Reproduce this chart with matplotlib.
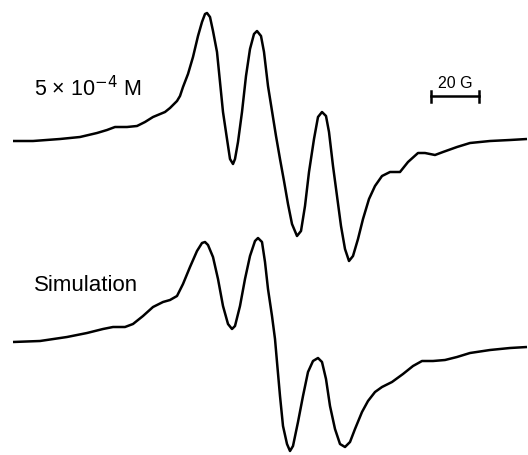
import matplotlib
matplotlib.use("Agg")
import matplotlib.pyplot as plt
import numpy as np

plt.rcParams['font.family'] = ['Liberation Sans', 'DejaVu Sans']

PX_PER_G = 2.4  # 20 G scale bar spans 48 px

# Experimental spectrum (5e-4 M): field readings (px units) and signal (px, downward positive)
exp_field_px = [13, 33, 60, 80, 97, 107, 115, 127, 137, 145, 153, 165, 170, 173, 177, 180,
                183, 188, 193, 198, 202, 205, 207, 210, 213, 217, 220, 223, 227, 230, 233,
                235, 238, 242, 246, 250, 254, 257, 261, 264, 268, 272, 276, 280, 284, 288, 292,
                297, 301, 305, 309, 314, 318, 322, 326, 329, 333, 337, 341, 345, 349, 353,
                358, 363, 369, 375, 382, 390, 400, 408, 418, 425, 435, 443, 457, 470, 490,
                510, 527]
exp_signal_px = [142, 142, 140, 138, 134, 131, 128, 128, 127, 123, 118, 113, 109, 106, 102, 97,
                 88, 75, 58, 37, 23, 15, 14, 18, 32, 53, 83, 113, 140, 160, 165,
                 160, 143, 113, 77, 50, 35, 32, 37, 53, 87, 112, 137, 160, 182, 205, 225,
                 237, 232, 207, 173, 140, 118, 113, 117, 133, 167, 197, 227, 250, 262, 257,
                 240, 220, 200, 187, 177, 173, 173, 163, 154, 154, 156, 153, 148, 144, 142,
                 141, 140]

# Simulated spectrum
sim_field_px = [13, 40, 67, 87, 103, 113, 125, 133, 143, 153, 163, 170, 177, 183, 190, 197,
                202, 205, 208, 213, 218, 223, 228, 232, 235, 240, 245, 250, 255, 258,
                262, 265, 268, 272, 275, 277, 280, 283, 287, 290, 293, 298, 303, 308,
                313, 318, 322, 326, 330, 335, 340, 345, 350, 355, 362, 368, 375, 382,
                392, 403, 413, 422, 433, 445, 457, 470, 490, 510, 527]
sim_signal_px = [343, 342, 338, 334, 330, 328, 328, 325, 317, 308, 303, 301, 297, 285, 268, 252,
                 244, 243, 246, 258, 280, 307, 325, 330, 327, 307, 280, 257, 242, 239,
                 243, 263, 290, 317, 340, 363, 397, 427, 445, 452, 447, 423, 397, 373,
                 362, 359, 363, 380, 407, 430, 445, 448, 443, 430, 413, 402, 393, 388,
                 383, 375, 367, 362, 362, 361, 358, 354, 351, 349, 348]

exp_field = np.array(exp_field_px) / PX_PER_G
sim_field = np.array(sim_field_px) / PX_PER_G

fig = plt.figure(figsize=(5.28, 4.56), dpi=100)
ax = fig.add_axes([0, 0, 1, 1])
ax.set_xlim(0, 528 / PX_PER_G)
ax.set_ylim(456, 0)
ax.axis('off')

ax.plot(exp_field, exp_signal_px, color='black', lw=1.8, solid_joinstyle='round',
        solid_capstyle='butt')
ax.plot(sim_field, sim_signal_px, color='black', lw=1.8, solid_joinstyle='round',
        solid_capstyle='butt')

ax.text(34 / PX_PER_G, 96, r'5 × 10$^{-4}$ M', fontsize=15.5, va='baseline', ha='left')
ax.text(34 / PX_PER_G, 291, 'Simulation', fontsize=16, va='baseline', ha='left')

# scale bar 20 G
x0 = 431 / PX_PER_G
ax.plot([x0, x0 + 20], [97, 97], color='black', lw=1.8)
ax.plot([x0, x0], [92, 103], color='black', lw=1.8)
ax.plot([x0 + 20, x0 + 20], [92, 103], color='black', lw=1.8)
ax.text(x0 + 10, 88, '20 G', fontsize=11.5, ha='center', va='baseline')

fig.savefig('out.png', dpi=100)
